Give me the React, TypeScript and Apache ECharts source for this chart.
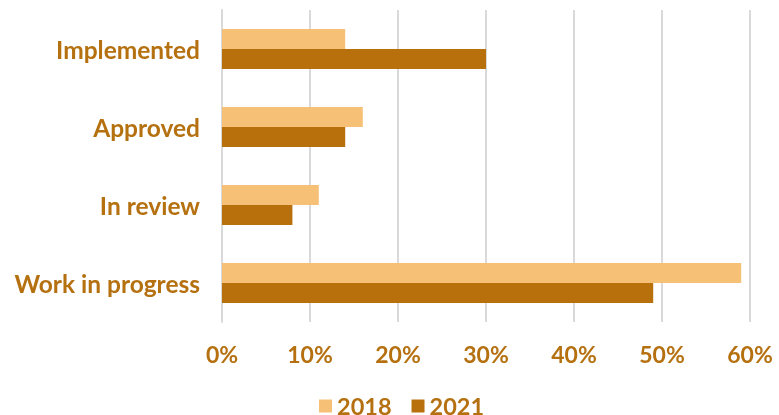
import React, { useEffect, useRef } from "react";
import * as echarts from "echarts";

const categories = ["Implemented", "Approved", "In review", "Work in progress"];
const values2018 = [14, 16, 11, 59];
const values2021 = [30, 14, 8, 49];
const seriesNames = ["2018", "2021"];
const xTicks = [0, 10, 20, 30, 40, 50, 60];

const TEXT = "#B5700F";
const FONT = "Lato, 'Open Sans', sans-serif";

export default function App() {
  const ref = useRef<HTMLDivElement>(null);
  useEffect(() => {
    if (!ref.current) return;
    const chart = echarts.init(ref.current, undefined, { renderer: "svg" });
    chart.setOption({
      animation: false,
      textStyle: { fontFamily: FONT },
      grid: { left: 222, right: 29, top: 10, bottom: 93, containLabel: false },
      legend: {
        data: seriesNames,
        top: 394,
        left: 319,
        padding: 0,
        itemWidth: 13,
        itemHeight: 13,
        itemGap: 20,
        icon: "rect",
        textStyle: {
          color: TEXT,
          fontSize: 23.5,
          lineHeight: 20,
          fontWeight: "bold",
          fontFamily: FONT,
        },
      },
      xAxis: {
        type: "value",
        min: xTicks[0],
        max: xTicks[xTicks.length - 1],
        interval: 10,
        axisLine: { show: false },
        axisTick: { show: false },
        splitLine: { show: true, lineStyle: { color: "#D9D9D9", width: 2 } },
        axisLabel: {
          color: TEXT,
          fontSize: 23,
          fontWeight: "bold",
          fontFamily: FONT,
          margin: 20,
          formatter: (v: number) => `${v}%`,
        },
      },
      yAxis: {
        type: "category",
        data: categories,
        inverse: true,
        axisLine: { show: true, lineStyle: { color: "#D9D9D9", width: 2 } },
        axisTick: { show: false },
        axisLabel: {
          color: TEXT,
          fontSize: 24.5,
          fontWeight: "bold",
          fontFamily: FONT,
          margin: 22,
        },
      },
      series: [
        {
          name: seriesNames[0],
          type: "bar",
          data: values2018,
          barWidth: 20,
          barGap: "0%",
          itemStyle: { color: "#F6C177" },
        },
        {
          name: seriesNames[1],
          type: "bar",
          data: values2021,
          barWidth: 20,
          barGap: "0%",
          itemStyle: { color: "#B8700C" },
        },
      ],
    });
    return () => chart.dispose();
  }, []);
  return (
    <div
      ref={ref}
      style={{ position: "fixed", left: 0, top: 0, width: 779, height: 415 }}
    />
  );
}
